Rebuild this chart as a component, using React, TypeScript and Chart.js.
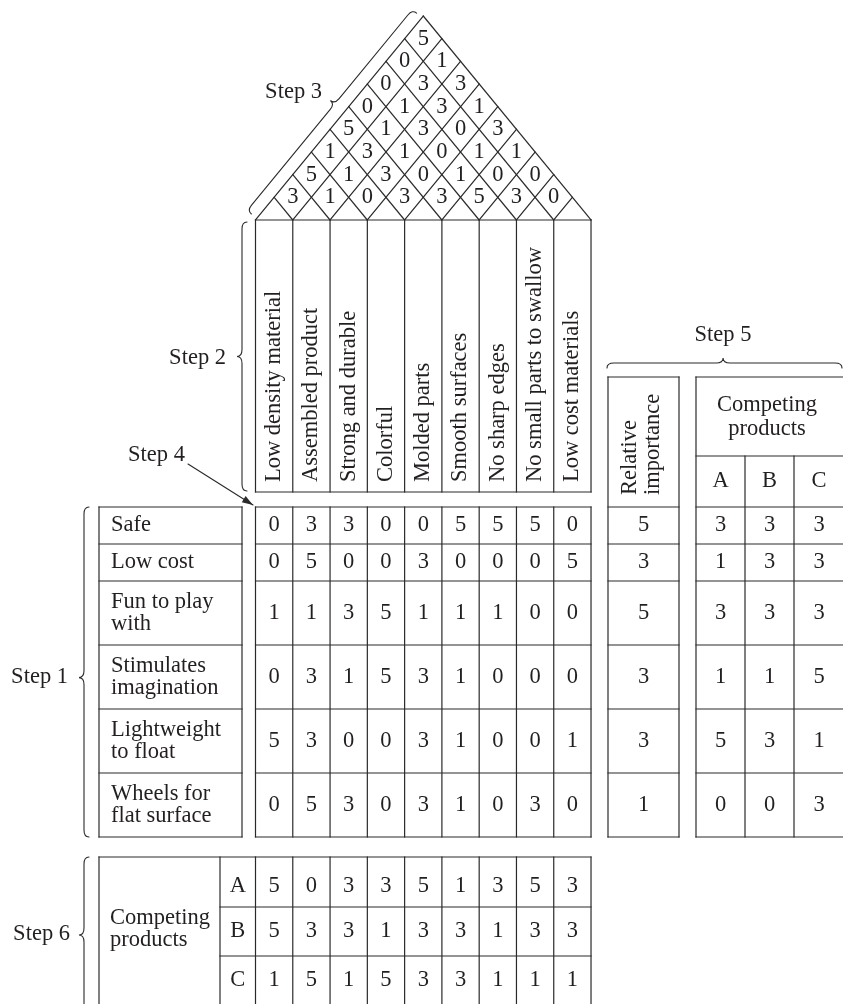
import React, { useEffect, useRef } from "react";
import { Chart, registerables } from "chart.js";

Chart.register(...registerables);

const W = 843;
const H = 1004;

// ---------------- data ----------------
const CUSTOMER_REQUIREMENTS = [
  "Safe",
  "Low cost",
  "Fun to play\nwith",
  "Stimulates\nimagination",
  "Lightweight\nto float",
  "Wheels for\nflat surface",
];

const DESIGN_FEATURES = [
  "Low density material",
  "Assembled product",
  "Strong and durable",
  "Colorful",
  "Molded parts",
  "Smooth surfaces",
  "No sharp edges",
  "No small parts to swallow",
  "Low cost materials",
];

// relationship matrix rows (Step 4)
const REL_SAFE = [0, 3, 3, 0, 0, 5, 5, 5, 0];
const REL_LOW_COST = [0, 5, 0, 0, 3, 0, 0, 0, 5];
const REL_FUN = [1, 1, 3, 5, 1, 1, 1, 0, 0];
const REL_IMAGINATION = [0, 3, 1, 5, 3, 1, 0, 0, 0];
const REL_LIGHTWEIGHT = [5, 3, 0, 0, 3, 1, 0, 0, 1];
const REL_WHEELS = [0, 5, 3, 0, 3, 1, 0, 3, 0];
const RELATIONSHIPS = [REL_SAFE, REL_LOW_COST, REL_FUN, REL_IMAGINATION, REL_LIGHTWEIGHT, REL_WHEELS];

// roof correlations (Step 3), by distance between the two columns
const ROOF_GAP1 = [3, 1, 0, 3, 3, 5, 3, 0];
const ROOF_GAP2 = [5, 1, 3, 0, 1, 0, 0];
const ROOF_GAP3 = [1, 3, 1, 0, 1, 1];
const ROOF_GAP4 = [5, 1, 3, 0, 3];
const ROOF_GAP5 = [0, 1, 3, 1];
const ROOF_GAP6 = [0, 3, 3];
const ROOF_GAP7 = [0, 1];
const ROOF_GAP8 = [5];
const ROOF_ROWS = [ROOF_GAP1, ROOF_GAP2, ROOF_GAP3, ROOF_GAP4, ROOF_GAP5, ROOF_GAP6, ROOF_GAP7, ROOF_GAP8];

// Step 5
const RELATIVE_IMPORTANCE = [5, 3, 5, 3, 3, 1];
const COMPETITORS = ["A", "B", "C"];
const CUSTOMER_RATING_A = [3, 1, 3, 1, 5, 0];
const CUSTOMER_RATING_B = [3, 3, 3, 1, 3, 0];
const CUSTOMER_RATING_C = [3, 3, 3, 5, 1, 3];
const CUSTOMER_RATINGS = [CUSTOMER_RATING_A, CUSTOMER_RATING_B, CUSTOMER_RATING_C];

// Step 6
const TECH_RATING_A = [5, 0, 3, 3, 5, 1, 3, 5, 3];
const TECH_RATING_B = [5, 3, 3, 1, 3, 3, 1, 3, 3];
const TECH_RATING_C = [1, 5, 1, 5, 3, 3, 1, 1, 1];
const TECH_RATINGS = [TECH_RATING_A, TECH_RATING_B, TECH_RATING_C];

const STEP_LABELS = ["Step 1", "Step 2", "Step 3", "Step 4", "Step 5", "Step 6"];
const RI_HEADER = "Relative\nimportance";
const CP_HEADER = "Competing\nproducts";

// ---------------- layout (layout units on the linear scales) ----------------
const G = {
  colX0: 255.5,
  colW: 37.28,
  roofBase: 220,
  apexY: 16,
  headBottom: 492,
  headTextStart: 482,
  rowY: [507, 544, 581, 645, 709, 773, 837],
  leftX0: 99,
  leftX1: 242,
  leftTextX: 111,
  riX0: 608,
  riX1: 679,
  riLineX: [630, 653],
  riTextStart: 495,
  cpX: [696, 745, 794, 844],
  boxTop: 377,
  cpHeadY: 456,
  cpTextX: 767,
  cpTextY: [405.5, 429],
  abcY: 481,
  s6Y: [857, 907, 956, 1005],
  s6TextY: [886, 931, 980.5],
  s6X0: 99,
  s6X1: 220,
  s6TextX: 110,
  s6LabelY: [918, 940],
  s6AbcX: 237.75,
  fontSize: 22.5,
};

const STEP_POS = [
  { x: 68, y: 677, align: "right" },
  { x: 226, y: 358, align: "right" },
  { x: 322, y: 92, align: "right" },
  { x: 128, y: 455, align: "left" },
  { x: 723, y: 335, align: "center" },
  { x: 70, y: 934, align: "right" },
];

const TEXT_COLOR = "#231f20";
const LINE_COLOR = "#2a2a2a";
const FONT_FAMILY = '"Liberation Serif", "Times New Roman", serif';

const nCols = DESIGN_FEATURES.length;
const colRight = G.colX0 + nCols * G.colW;
const colCenter = (c: number) => G.colX0 + (c + 0.5) * G.colW;
const colEdge = (k: number) => G.colX0 + k * G.colW;
const rowCenter = (r: number) => (G.rowY[r] + G.rowY[r + 1]) / 2;
const roofStep = (G.roofBase - G.apexY) / (nCols);

function buildDatasets() {
  const base = { pointRadius: 0, pointHoverRadius: 0, showLine: false };
  return [
    {
      ...base,
      label: "relationships",
      data: RELATIONSHIPS.flatMap((row, r) => row.map((v, c) => ({ x: colCenter(c), y: rowCenter(r), v }))),
    },
    {
      ...base,
      label: "roof",
      data: ROOF_ROWS.flatMap((row, g) =>
        row.map((v, i) => ({
          x: (colCenter(i) + colCenter(i + g + 1)) / 2,
          y: G.roofBase - (g + 1) * roofStep,
          v,
        }))
      ),
    },
    {
      ...base,
      label: "importance",
      data: RELATIVE_IMPORTANCE.map((v, r) => ({ x: (G.riX0 + G.riX1) / 2, y: rowCenter(r), v })),
    },
    ...CUSTOMER_RATINGS.map((arr, k) => ({
      ...base,
      label: "customer " + COMPETITORS[k],
      data: arr.map((v, r) => ({ x: (G.cpX[k] + G.cpX[k + 1]) / 2, y: rowCenter(r), v })),
    })),
    ...TECH_RATINGS.map((arr, k) => ({
      ...base,
      label: "technical " + COMPETITORS[k],
      data: arr.map((v, c) => ({ x: colCenter(c), y: G.s6TextY[k], v })),
    })),
  ];
}

const housePlugin = {
  id: "houseOfQuality",
  beforeDatasetsDraw(chart: any) {
    const ctx: CanvasRenderingContext2D = chart.ctx;
    const X = (v: number) => chart.scales.x.getPixelForValue(v);
    const Y = (v: number) => chart.scales.y.getPixelForValue(v);
    const line = (x1: number, y1: number, x2: number, y2: number) => {
      ctx.beginPath();
      ctx.moveTo(X(x1), Y(y1));
      ctx.lineTo(X(x2), Y(y2));
      ctx.stroke();
    };
    const rect = (x1: number, y1: number, x2: number, y2: number) => {
      line(x1, y1, x2, y1);
      line(x2, y1, x2, y2);
      line(x2, y2, x1, y2);
      line(x1, y2, x1, y1);
    };
    ctx.save();
    ctx.fillStyle = "#ffffff";
    ctx.fillRect(0, 0, chart.width, chart.height);
    ctx.strokeStyle = LINE_COLOR;
    ctx.lineWidth = 1.2;
    ctx.lineCap = "square";

    // roof
    const xL = G.colX0;
    const xR = colRight;
    const slope = (G.roofBase - G.apexY) / ((xR - xL) / 2);
    line(xL, G.roofBase, (xL + xR) / 2, G.apexY);
    line((xL + xR) / 2, G.apexY, xR, G.roofBase);
    for (let k = 1; k < nCols; k++) {
      const xk = colEdge(k);
      const tR = (xR - xk) / 2;
      line(xk, G.roofBase, xk + tR, G.roofBase - slope * tR);
      const tL = (xk - xL) / 2;
      line(xk, G.roofBase, xk - tL, G.roofBase - slope * tL);
    }

    // header box (Step 2)
    rect(xL, G.roofBase, xR, G.headBottom);
    for (let k = 1; k < nCols; k++) line(colEdge(k), G.roofBase, colEdge(k), G.headBottom);

    // relationship matrix
    const top = G.rowY[0];
    const bottom = G.rowY[G.rowY.length - 1];
    rect(xL, top, xR, bottom);
    for (let k = 1; k < nCols; k++) line(colEdge(k), top, colEdge(k), bottom);
    for (let r = 1; r < G.rowY.length - 1; r++) line(xL, G.rowY[r], xR, G.rowY[r]);

    // customer requirements table
    rect(G.leftX0, top, G.leftX1, bottom);
    for (let r = 1; r < G.rowY.length - 1; r++) line(G.leftX0, G.rowY[r], G.leftX1, G.rowY[r]);

    // relative importance
    rect(G.riX0, G.boxTop, G.riX1, bottom);
    for (let r = 0; r < G.rowY.length - 1; r++) line(G.riX0, G.rowY[r], G.riX1, G.rowY[r]);

    // competing products (Step 5)
    const cpL = G.cpX[0];
    const cpR = G.cpX[G.cpX.length - 1];
    rect(cpL, G.boxTop, cpR, bottom);
    line(cpL, G.cpHeadY, cpR, G.cpHeadY);
    for (let k = 1; k < G.cpX.length - 1; k++) line(G.cpX[k], G.cpHeadY, G.cpX[k], bottom);
    for (let r = 0; r < G.rowY.length - 1; r++) line(cpL, G.rowY[r], cpR, G.rowY[r]);

    // Step 6 table
    const s6T = G.s6Y[0];
    const s6B = G.s6Y[G.s6Y.length - 1];
    rect(G.s6X0, s6T, xR, s6B);
    line(G.s6X1, s6T, G.s6X1, s6B);
    for (let k = 0; k < nCols; k++) line(colEdge(k), s6T, colEdge(k), s6B);
    for (let r = 1; r < G.s6Y.length - 1; r++) line(G.s6X1, G.s6Y[r], xR, G.s6Y[r]);

    // braces
    const brace = (
      p0: [number, number],
      p1: [number, number],
      n: [number, number],
      d: number,
      rr: number,
      frac: number
    ) => {
      const dx = p1[0] - p0[0];
      const dy = p1[1] - p0[1];
      const len = Math.hypot(dx, dy);
      const u = [dx / len, dy / len];
      const P = (s: number, t: number) => [X(p0[0] + u[0] * s + n[0] * t), Y(p0[1] + u[1] * s + n[1] * t)];
      const m = len * frac;
      ctx.beginPath();
      let a = P(0, 0);
      ctx.moveTo(a[0], a[1]);
      let c = P(0, d), e = P(rr, d);
      ctx.quadraticCurveTo(c[0], c[1], e[0], e[1]);
      e = P(m - rr, d);
      ctx.lineTo(e[0], e[1]);
      c = P(m, d); e = P(m, 2 * d);
      ctx.quadraticCurveTo(c[0], c[1], e[0], e[1]);
      c = P(m, d); e = P(m + rr, d);
      ctx.quadraticCurveTo(c[0], c[1], e[0], e[1]);
      e = P(len - rr, d);
      ctx.lineTo(e[0], e[1]);
      c = P(len, d); e = P(len, 0);
      ctx.quadraticCurveTo(c[0], c[1], e[0], e[1]);
      ctx.stroke();
    };
    ctx.lineCap = "round";
    ctx.lineWidth = 1.1;
    brace([89, 507], [89, 837], [-1, 0], 5, 7, 0.517);
    brace([247, 222], [247, 491], [-1, 0], 5, 7, 0.5);
    brace([607, 368], [842, 368], [0, -1], 5, 7, 0.494);
    brace([89, 857], [89, 1013], [-1, 0], 5, 7, 0.5);
    {
      const bx = G.colX0, by = G.roofBase;
      const ax = (xL + xR) / 2, ay = G.apexY;
      const len = Math.hypot(ax - bx, ay - by);
      const u = [(ax - bx) / len, (ay - by) / len];
      const n: [number, number] = [u[1], -u[0]];
      brace(
        [bx + n[0] * 7 + u[0] * 2, by + n[1] * 7 + u[1] * 2],
        [ax + n[0] * 7 - u[0] * 2, ay + n[1] * 7 - u[1] * 2],
        n,
        5.5,
        7,
        0.53
      );
    }

    // Step 4 arrow
    ctx.lineWidth = 1.1;
    const a0 = [188, 464];
    const a1 = [253, 505];
    line(a0[0], a0[1], a1[0], a1[1]);
    {
      const dx = a1[0] - a0[0], dy = a1[1] - a0[1];
      const len = Math.hypot(dx, dy);
      const ux = dx / len, uy = dy / len;
      const hl = 11, hw = 3.6;
      ctx.fillStyle = LINE_COLOR;
      ctx.beginPath();
      ctx.moveTo(X(a1[0]), Y(a1[1]));
      ctx.lineTo(X(a1[0] - ux * hl - uy * hw), Y(a1[1] - uy * hl + ux * hw));
      ctx.lineTo(X(a1[0] - ux * hl + uy * hw), Y(a1[1] - uy * hl - ux * hw));
      ctx.closePath();
      ctx.fill();
    }
    ctx.restore();
  },
  afterDatasetsDraw(chart: any) {
    const ctx: CanvasRenderingContext2D = chart.ctx;
    const X = (v: number) => chart.scales.x.getPixelForValue(v);
    const Y = (v: number) => chart.scales.y.getPixelForValue(v);
    ctx.save();
    ctx.fillStyle = TEXT_COLOR;
    ctx.font = `${G.fontSize}px ${FONT_FAMILY}`;
    ctx.textBaseline = "middle";

    // values from datasets
    ctx.textAlign = "center";
    chart.data.datasets.forEach((ds: any, i: number) => {
      const meta = chart.getDatasetMeta(i);
      meta.data.forEach((el: any, j: number) => {
        ctx.fillText(String(ds.data[j].v), el.x, el.y);
      });
    });

    // rotated column headers
    const rotText = (txt: string, x: number, y: number) => {
      ctx.save();
      ctx.translate(X(x), Y(y));
      ctx.rotate(-Math.PI / 2);
      ctx.textAlign = "left";
      ctx.fillText(txt, 0, 0);
      ctx.restore();
    };
    DESIGN_FEATURES.forEach((f, c) => rotText(f, colCenter(c), G.headTextStart));
    RI_HEADER.split("\n").forEach((t, i) => rotText(t, G.riLineX[i], G.riTextStart));

    // customer requirements
    const lh = 22;
    ctx.textAlign = "left";
    CUSTOMER_REQUIREMENTS.forEach((req, r) => {
      const lines = req.split("\n");
      const cy = rowCenter(r);
      lines.forEach((t, i) => {
        ctx.fillText(t, X(G.leftTextX), Y(cy + (i - (lines.length - 1) / 2) * lh));
      });
    });

    // Step 5 header
    ctx.textAlign = "center";
    CP_HEADER.split("\n").forEach((t, i) => ctx.fillText(t, X(G.cpTextX), Y(G.cpTextY[i])));
    COMPETITORS.forEach((name, k) => ctx.fillText(name, X((G.cpX[k] + G.cpX[k + 1]) / 2), Y(G.abcY)));

    // Step 6 labels
    ctx.textAlign = "left";
    CP_HEADER.split("\n").forEach((t, i) => ctx.fillText(t, X(G.s6TextX), Y(G.s6LabelY[i])));
    ctx.textAlign = "center";
    COMPETITORS.forEach((name, k) => ctx.fillText(name, X(G.s6AbcX), Y(G.s6TextY[k])));

    // step labels
    STEP_LABELS.forEach((s, i) => {
      const p = STEP_POS[i];
      ctx.textAlign = p.align as CanvasTextAlign;
      ctx.fillText(s, X(p.x), Y(p.y));
    });
    ctx.restore();
  },
};

export default function App() {
  const canvasRef = useRef<HTMLCanvasElement | null>(null);

  useEffect(() => {
    const canvas = canvasRef.current;
    if (!canvas) return;
    const chart = new Chart(canvas, {
      type: "scatter",
      data: { datasets: buildDatasets() as any },
      options: {
        animation: false,
        responsive: false,
        maintainAspectRatio: false,
        devicePixelRatio: 1,
        events: [],
        layout: { padding: 0 },
        plugins: {
          legend: { display: false },
          tooltip: { enabled: false },
          title: { display: false },
        },
        scales: {
          x: { type: "linear", min: 0, max: W, display: false },
          y: { type: "linear", min: 0, max: H, reverse: true, display: false },
        },
      },
      plugins: [housePlugin],
    });
    return () => chart.destroy();
  }, []);

  return (
    <div style={{ position: "absolute", left: 0, top: 0, width: W, height: H, background: "#fff" }}>
      <canvas ref={canvasRef} width={W} height={H} style={{ display: "block", width: W, height: H }} />
    </div>
  );
}
